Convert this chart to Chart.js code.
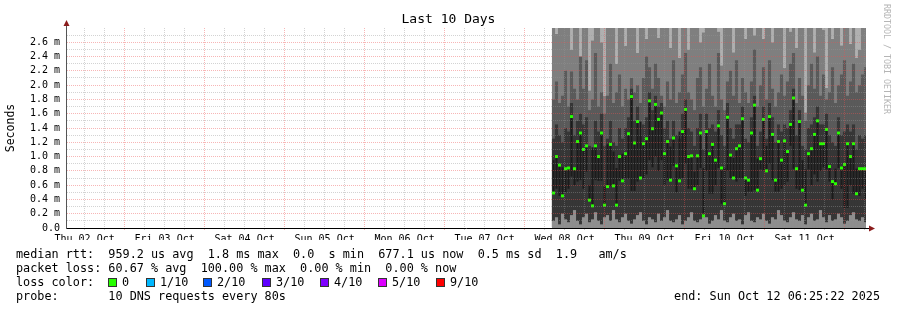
<!DOCTYPE html>
<html>
<head>
<meta charset="utf-8">
<title>Last 10 Days</title>
<script src="https://cdn.jsdelivr.net/npm/chart.js@4.4.1/dist/chart.umd.min.js"></script>
<style>
  html, body { margin: 0; padding: 0; background: #fff; }
  #wrap { position: relative; width: 897px; height: 310px; overflow: hidden; font-family: 'DejaVu Sans Mono', monospace; color: #000; }
  #chart { position: absolute; left: 0; top: 0; }
  .txt { position: absolute; white-space: pre; margin: 0; font-family: 'DejaVu Sans Mono', monospace; }
  #title { left: 0; width: 897px; top: 11px; text-align: center; font-size: 13px; line-height: 16px; }
  #mark { left: 882px; top: 4px; font-size: 8.3px; line-height: 10px; writing-mode: vertical-rl; color: #b5b5b5; }
  #stats { left: 16px; top: 247px; font-size: 11.8px; line-height: 14px; }
  #endTime { right: 17px; top: 289px; font-size: 11.8px; line-height: 14px; }
  .box { position: absolute; width: 7px; height: 7px; border: 1px solid #333; top: 278px; }
  .lbl { position: absolute; top: 275px; font-size: 11.8px; line-height: 14px; white-space: pre; font-family: 'DejaVu Sans Mono', monospace; }
</style>
</head>
<body>
<div id="wrap">
  <canvas id="chart" width="897" height="310"></canvas>
  <div id="title" class="txt">Last 10 Days</div>
  <div id="mark" class="txt">RRDTOOL / TOBI OETIKER</div>
  <pre id="stats" class="txt"></pre>
  <div id="endTime" class="txt"></div>
  <div id="lossLegend"></div>
</div>
<script>
// graph window: 10 days back from the rrd end time
const endTime = Date.UTC(2025, 9, 12, 6, 25, 22);
const startTime = endTime - 10 * 24 * 3600 * 1000;

// consolidated rows of the rrd (first row, row length)
const firstSample = Date.UTC(2025, 9, 8, 8, 40, 22);
const sampleStep = 54 * 60 * 1000;

// median rtt per row, ms
const med = [
  0.49, 1.00, 0.88, 0.45, 0.83, 0.84, 1.56, 0.83, 1.21, 1.33,
  1.10, 1.15, 0.39, 0.31, 1.15, 1.00, 1.33, 0.32, 0.58, 1.17,
  0.59, 0.32, 1.00, 0.66, 1.04, 1.32, 1.84, 1.19, 1.49, 0.70,
  1.18, 1.25, 1.78, 1.39, 1.73, 1.52, 1.61, 1.04, 1.21, 0.67,
  1.26, 0.87, 0.66, 1.35, 1.66, 1.00, 1.01, 0.55, 1.01, 1.33,
  0.17, 1.35, 1.04, 1.17, 0.95, 1.43, 0.84, 0.34, 1.55, 1.02,
  0.70, 1.11, 1.15, 1.53, 0.70, 0.67, 1.33, 1.72, 0.53, 0.97,
  1.52, 0.80, 1.56, 1.31, 0.67, 1.21, 0.95, 1.22, 1.07, 1.45,
  1.82, 0.83, 1.49, 0.53, 0.32, 1.04, 1.11, 1.31, 1.50, 1.18,
  1.18, 1.38, 0.86, 0.65, 0.62, 1.33, 0.84, 0.89, 1.18, 1.00,
  1.18, 0.48, 0.83, 0.83, 0.83
];

// other end of the darkest smoke band (pings next to the median)
const coreEnd = [
  0.95, 0.55, 0.45, 0.85, 0.50, 0.55, 0.72, 0.60, 0.65, 0.67,
  0.55, 0.79, 0.60, 1.13, 0.67, 0.66, 0.66, 0.58, 1.17, 0.59,
  1.07, 0.84, 0.66, 1.04, 0.69, 0.69, 0.52, 0.52, 0.65, 1.49,
  0.70, 0.75, 0.95, 0.85, 1.00, 0.80, 0.95, 0.60, 0.67, 1.14,
  0.87, 0.50, 1.35, 0.70, 0.90, 0.55, 0.55, 0.79, 0.60, 0.84,
  0.84, 0.80, 0.48, 0.48, 0.60, 0.84, 0.34, 0.84, 0.80, 0.70,
  0.98, 0.65, 0.70, 0.70, 0.45, 0.51, 0.51, 0.53, 0.97, 0.82,
  0.80, 1.15, 0.90, 0.67, 0.51, 0.51, 0.55, 0.60, 0.65, 1.15,
  0.83, 0.55, 0.53, 0.95, 0.82, 0.82, 0.60, 0.75, 0.65, 0.80,
  0.85, 0.82, 0.65, 0.40, 0.83, 0.84, 0.55, 0.28, 0.28, 0.60,
  0.48, 0.83, 0.45, 0.55, 0.40
];

// smoke quantiles, ms (values above 2.8 run off the top of the graph)
const q10 = [
  0.10, 0.15, 0.05, 0.20, 0.12, 0.08, 0.18, 0.25, 0.10, 0.05,
  0.15, 0.20, 0.08, 0.12, 0.22, 0.10, 0.05, 0.15, 0.18, 0.10,
  0.25, 0.12, 0.08, 0.15, 0.20, 0.10, 0.06, 0.12, 0.18, 0.22,
  0.10, 0.05, 0.15, 0.12, 0.08, 0.20, 0.10, 0.15, 0.25, 0.10,
  0.08, 0.12, 0.18, 0.05, 0.10, 0.15, 0.22, 0.10, 0.08, 0.12,
  0.20, 0.15, 0.06, 0.10, 0.18, 0.12, 0.25, 0.10, 0.08, 0.15,
  0.20, 0.10, 0.12, 0.05, 0.18, 0.22, 0.10, 0.08, 0.15, 0.12,
  0.20, 0.10, 0.06, 0.15, 0.12, 0.25, 0.18, 0.10, 0.08, 0.15,
  0.22, 0.12, 0.10, 0.18, 0.05, 0.15, 0.20, 0.10, 0.12, 0.25,
  0.15, 0.08, 0.18, 0.10, 0.12, 0.20, 0.15, 0.06, 0.10, 0.18,
  0.22, 0.12, 0.10, 0.15, 0.08
];
const q60 = [
  1.25, 1.45, 1.30, 1.20, 1.40, 1.35, 1.75, 1.30, 1.50, 1.60,
  1.45, 1.55, 1.15, 1.10, 1.50, 1.35, 1.60, 1.15, 1.25, 1.50,
  1.20, 1.15, 1.40, 1.25, 1.40, 1.55, 1.95, 1.50, 1.70, 1.30,
  1.45, 1.55, 1.90, 1.65, 1.85, 1.70, 1.75, 1.40, 1.50, 1.25,
  1.50, 1.30, 1.25, 1.60, 1.80, 1.40, 1.35, 1.15, 1.40, 1.60,
  1.10, 1.60, 1.40, 1.45, 1.35, 1.65, 1.30, 1.15, 1.75, 1.40,
  1.25, 1.45, 1.45, 1.70, 1.25, 1.20, 1.55, 1.85, 1.15, 1.35,
  1.70, 1.25, 1.75, 1.55, 1.20, 1.45, 1.35, 1.45, 1.40, 1.65,
  1.95, 1.30, 1.65, 1.15, 1.10, 1.40, 1.45, 1.55, 1.70, 1.45,
  1.45, 1.60, 1.30, 1.20, 1.15, 1.55, 1.30, 1.35, 1.45, 1.35,
  1.45, 1.10, 1.30, 1.25, 1.30
];
const q75 = [
  1.80, 2.05, 1.75, 1.85, 2.20, 1.70, 2.19, 1.95, 1.80, 2.40,
  1.95, 2.35, 1.65, 1.80, 2.45, 1.70, 1.90, 1.60, 1.85, 2.30,
  1.75, 1.90, 2.15, 1.70, 1.95, 1.80, 2.10, 1.90, 2.00, 1.75,
  2.10, 2.40, 2.25, 1.95, 2.30, 2.10, 1.85, 1.70, 2.05, 1.80,
  2.35, 1.75, 1.90, 2.15, 2.45, 1.90, 1.80, 1.65, 2.10, 2.25,
  1.70, 1.95, 2.30, 1.85, 1.70, 2.45, 1.80, 1.65, 2.05, 2.20,
  1.85, 2.35, 1.75, 2.10, 1.90, 1.75, 2.05, 2.50, 1.70, 2.00,
  2.25, 1.80, 2.35, 1.95, 1.70, 1.90, 2.15, 1.85, 2.05, 2.30,
  2.45, 1.75, 2.10, 1.85, 1.50, 2.00, 2.30, 1.95, 2.40, 1.85,
  2.15, 1.80, 1.90, 2.25, 1.75, 2.00, 2.15, 2.35, 1.85, 2.05,
  2.30, 1.90, 2.00, 2.15, 2.25
];
const q90 = [
  3.00, 2.72, 3.00, 3.00, 3.00, 3.00, 2.50, 3.00, 3.00, 2.05,
  3.00, 3.00, 1.93, 2.63, 3.00, 3.00, 2.60, 1.85, 3.00, 3.00,
  3.00, 2.30, 3.00, 3.00, 2.55, 3.00, 3.00, 3.00, 2.45, 3.00,
  3.00, 2.65, 3.00, 3.00, 3.00, 2.66, 3.00, 3.00, 3.00, 2.52,
  3.00, 3.00, 2.38, 3.00, 3.00, 2.50, 3.00, 3.00, 3.00, 2.60,
  2.74, 3.00, 3.00, 3.00, 3.00, 2.75, 2.28, 3.00, 3.00, 3.00,
  2.46, 3.00, 3.00, 3.00, 2.65, 3.00, 3.00, 2.70, 3.00, 3.00,
  2.65, 3.00, 3.00, 2.60, 3.00, 3.00, 3.00, 2.24, 3.00, 2.75,
  3.00, 2.52, 3.00, 3.00, 1.62, 3.00, 3.00, 2.46, 3.00, 3.00,
  2.78, 1.96, 3.00, 2.65, 3.00, 3.00, 2.56, 3.00, 3.00, 2.58,
  3.00, 2.38, 2.50, 3.00, 3.00
];

// y axis range, ms
const Y_MAX = 2.8;

// legend texts
const statLines = [
  'median rtt:  959.2 us avg  1.8 ms max  0.0  s min  677.1 us now  0.5 ms sd  1.9   am/s',
  'packet loss: 60.67 % avg  100.00 % max  0.00 % min  0.00 % now',
  'loss color:',
  'probe:       10 DNS requests every 80s'
];
const lossLabels = ['0', '1/10', '2/10', '3/10', '4/10', '5/10', '9/10'];
const lossColors = ['#26ff00', '#00b8ff', '#0059ff', '#5e00ff', '#7e00ff', '#dd00ff', '#ff0000'];
const lossBoxX = [108, 146, 203, 262, 320, 378, 436];

const DAYS = ['Sun', 'Mon', 'Tue', 'Wed', 'Thu', 'Fri', 'Sat'];
const MONTHS = ['Jan', 'Feb', 'Mar', 'Apr', 'May', 'Jun', 'Jul', 'Aug', 'Sep', 'Oct', 'Nov', 'Dec'];
const pad2 = n => String(n).padStart(2, '0');

// legend under the graph
document.getElementById('stats').textContent = statLines.join('\n');
const lossDiv = document.getElementById('lossLegend');
lossLabels.forEach((lab, i) => {
  const box = document.createElement('div');
  box.className = 'box';
  box.style.left = lossBoxX[i] + 'px';
  box.style.background = lossColors[i];
  lossDiv.appendChild(box);
  const txt = document.createElement('div');
  txt.className = 'lbl';
  txt.style.left = (lossBoxX[i] + 14) + 'px';
  txt.textContent = lab;
  lossDiv.appendChild(txt);
});
const e = new Date(endTime);
document.getElementById('endTime').textContent = 'end: ' + DAYS[e.getUTCDay()] + ' ' + MONTHS[e.getUTCMonth()] + ' ' +
  pad2(e.getUTCDate()) + ' ' + pad2(e.getUTCHours()) + ':' + pad2(e.getUTCMinutes()) + ':' + pad2(e.getUTCSeconds()) + ' ' + e.getUTCFullYear();

const sampleTimes = med.map((_, i) => firstSample + i * sampleStep);

function band(color, lo, hi, width) {
  return {
    type: 'bar',
    backgroundColor: color,
    borderWidth: 0,
    clip: 0,
    categoryPercentage: 1,
    barPercentage: width || 1.04,
    data: sampleTimes.map((t, i) => ({ x: t, y: [lo[i], hi[i]] }))
  };
}
const zeros = med.map(() => 0);
const tops = med.map(() => Y_MAX + 0.2);

// first dataset is drawn on top
const datasets = [
  {
    type: 'line',
    showLine: false,
    clip: 0,
    pointStyle: 'rect',
    pointRadius: 2.1,
    pointBorderWidth: 0,
    backgroundColor: lossColors[0],
    borderColor: lossColors[0],
    data: sampleTimes.map((t, i) => ({ x: t, y: med[i] }))
  },
  band('#1b1b1b', coreEnd, med, 0.67),
  band('#8e8e8e', zeros, q10),
  band('#363636', q10, q60),
  band('#5a5a5a', zeros, q75),
  band('#7f7f7f', zeros, q90),
  band('#b0b0b0', q90, tops)
];

const axisArrows = {
  id: 'axisArrows',
  afterDraw(chart) {
    const { ctx, chartArea: a } = chart;
    ctx.save();
    ctx.lineWidth = 1;
    ctx.strokeStyle = '#555';
    ctx.beginPath();
    ctx.moveTo(a.left + 0.5, a.top);
    ctx.lineTo(a.left + 0.5, a.top - 3);
    ctx.stroke();
    ctx.strokeStyle = '#000';
    ctx.beginPath();
    ctx.moveTo(a.right, a.bottom + 0.5);
    ctx.lineTo(a.right + 3, a.bottom + 0.5);
    ctx.stroke();
    ctx.fillStyle = '#8b1c1c';
    ctx.beginPath();
    ctx.moveTo(a.left + 0.5, a.top - 8);
    ctx.lineTo(a.left - 2.5, a.top - 2);
    ctx.lineTo(a.left + 3.5, a.top - 2);
    ctx.closePath();
    ctx.fill();
    ctx.beginPath();
    ctx.moveTo(a.right + 9, a.bottom + 0.5);
    ctx.lineTo(a.right + 3, a.bottom - 2.5);
    ctx.lineTo(a.right + 3, a.bottom + 3.5);
    ctx.closePath();
    ctx.fill();
    ctx.restore();
  }
};

Chart.defaults.font.family = "'DejaVu Sans Mono', monospace";
Chart.defaults.font.size = 10;
Chart.defaults.color = '#000';

const SIX_HOURS = 6 * 3600 * 1000;
const MINOR = 'rgba(150,150,150,0.42)';
const MAJOR = 'rgba(235,80,80,0.42)';

function xGridColor(c) {
  if (!c.tick) return MINOR;
  return new Date(c.tick.value).getUTCHours() === 0 ? MAJOR : MINOR;
}
function yGridColor(c) {
  if (!c.tick) return MINOR;
  const k = Math.round(c.tick.value * 10);
  if (k >= Math.round(Y_MAX * 10)) return 'rgba(0,0,0,0)';
  return k % 2 === 0 ? MAJOR : MINOR;
}

new Chart(document.getElementById('chart'), {
  type: 'bar',
  data: { datasets },
  options: {
    responsive: false,
    animation: false,
    events: [],
    layout: { padding: { left: 0, top: 28, right: 31, bottom: 70 } },
    plugins: { legend: { display: false }, tooltip: { enabled: false } },
    datasets: { bar: { grouped: false } },
    scales: {
      x: {
        type: 'linear',
        offset: false,
        min: startTime,
        max: endTime,
        afterFit(scale) {
          scale.height = 12;
          scale.paddingLeft = 0;
          scale.paddingRight = 0;
        },
        afterBuildTicks(scale) {
          const ticks = [];
          for (let t = Math.ceil(startTime / SIX_HOURS) * SIX_HOURS; t <= endTime; t += SIX_HOURS) ticks.push({ value: t });
          scale.ticks = ticks;
        },
        grid: { z: 1, offset: false, tickLength: 2, color: xGridColor },
        border: { color: '#000', z: 2, dash: [1, 1] },
        ticks: {
          autoSkip: false,
          maxRotation: 0,
          padding: 3,
          font: { size: 10 },
          callback(v) {
            const d = new Date(v);
            if (d.getUTCHours() !== 12) return '';
            return DAYS[d.getUTCDay()] + ' ' + pad2(d.getUTCDate()) + ' ' + MONTHS[d.getUTCMonth()];
          }
        }
      },
      y: {
        min: 0,
        max: Y_MAX,
        afterFit(scale) {
          scale.width = 66;
          scale.paddingTop = 0;
          scale.paddingBottom = 0;
        },
        afterBuildTicks(scale) {
          const ticks = [];
          for (let k = 0; k <= Math.round(Y_MAX * 10); k++) ticks.push({ value: k / 10 });
          scale.ticks = ticks;
        },
        grid: { z: 1, drawTicks: false, color: yGridColor },
        border: { color: '#555', z: 2, dash: [1, 1] },
        ticks: {
          autoSkip: false,
          padding: 6,
          font: { size: 10 },
          callback(v) {
            const k = Math.round(v * 10);
            if (k % 2 !== 0 || k >= Math.round(Y_MAX * 10)) return '';
            return k === 0 ? '0.0' : (k / 10).toFixed(1) + ' m';
          }
        },
        title: {
          display: true,
          text: 'Seconds',
          color: '#000',
          font: { size: 11.5 },
          padding: { top: 4, bottom: 0 }
        }
      }
    }
  },
  plugins: [axisArrows]
});
</script>
</body>
</html>
